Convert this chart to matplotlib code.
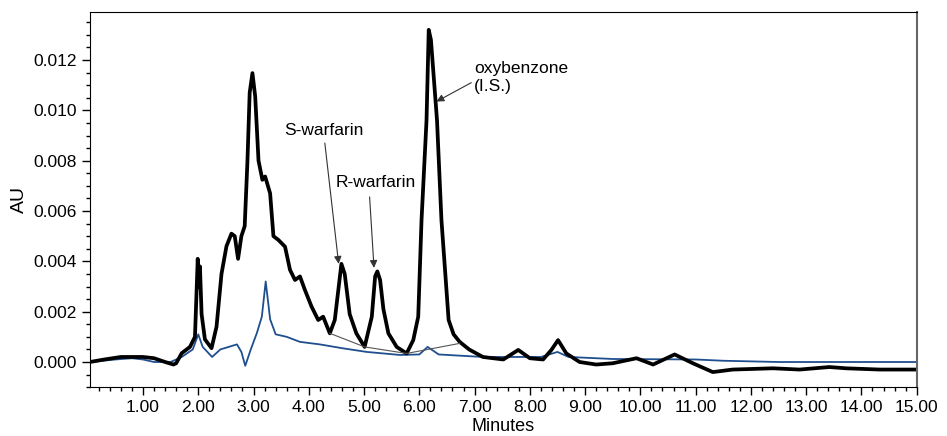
import numpy as np
import matplotlib
matplotlib.use("Agg")
from matplotlib import pyplot as plt
from matplotlib.ticker import MultipleLocator, FormatStrFormatter

###
# Chiral separation of warfarin, plasma sample vs blank
###

# sample trace (black)
t_black = [0.04, 0.3, 0.6, 1.0, 1.2, 1.4, 1.55, 1.6, 1.70, 1.85, 1.94, 1.99, 2.01, 2.03, 2.06,
           2.12, 2.24, 2.33, 2.42, 2.51, 2.60, 2.66, 2.72, 2.78, 2.84, 2.89, 2.93, 2.98,
           3.03, 3.09, 3.16, 3.21, 3.30, 3.36, 3.45, 3.57, 3.66, 3.75, 3.84, 3.93, 4.05,
           4.17, 4.26, 4.38, 4.47, 4.59, 4.65, 4.74, 4.86, 5.01, 5.14, 5.20, 5.24, 5.29,
           5.35, 5.44, 5.59, 5.77, 5.89, 5.98, 6.04, 6.13, 6.17, 6.21, 6.32, 6.40, 6.53,
           6.62, 6.73, 6.90, 7.15, 7.52, 7.79, 8.00, 8.24, 8.39, 8.51, 8.66, 8.90, 9.20,
           9.50, 9.93, 10.23, 10.62, 10.95, 11.31, 11.67, 12.40, 12.88, 13.42, 13.72,
           14.33, 15.0]
au_black = [0.0, 0.0001, 0.0002, 0.0002, 0.00015, 0.0, -0.0001, -0.00005, 0.00035, 0.0006,
            0.0010, 0.0041, 0.0030, 0.0038, 0.0019, 0.0009, 0.00055, 0.0014, 0.0035, 0.0046,
            0.0051, 0.0050, 0.0041, 0.0050, 0.0054, 0.0080, 0.0107, 0.01148, 0.01055, 0.0080,
            0.00724, 0.00737, 0.0067, 0.0050, 0.00485, 0.00458, 0.00366, 0.00326, 0.0034,
            0.00286, 0.0022, 0.00167, 0.0018, 0.00114, 0.00167, 0.0039, 0.0035, 0.0019,
            0.00114, 0.0006, 0.0018, 0.0034, 0.0036, 0.00326, 0.0021, 0.00114, 0.0006,
            0.00034, 0.00087, 0.0018, 0.00565, 0.0096, 0.0132, 0.0128, 0.0096, 0.00565,
            0.00167, 0.0011, 0.0008, 0.0005, 0.0002, 0.0001, 0.00048, 0.00015, 0.0001,
            0.00048, 0.00087, 0.00034, 0.0, -0.0001, -0.00005, 0.00015, -0.0001, 0.0003,
            -0.00005, -0.0004, -0.0003, -0.00025, -0.0003, -0.0002, -0.00025, -0.0003, -0.0003]

# blank trace (blue)
t_blue = [0.04, 0.5, 0.8, 1.0, 1.2, 1.5, 1.7, 1.9, 2.0, 2.08, 2.25, 2.4, 2.55, 2.7, 2.78,
          2.85, 2.95, 3.06, 3.15, 3.22, 3.3, 3.4, 3.6, 3.84, 4.2, 4.6, 5.05, 5.65, 6.0,
          6.15, 6.35, 7.15, 8.2, 8.5, 8.7, 9.5, 11.0, 11.5, 12.5, 15.0]
au_blue = [0.0, 0.0001, 0.00015, 0.0001, 0.0, 0.0, 0.0002, 0.0005, 0.0011, 0.0006, 0.0002,
           0.0005, 0.0006, 0.0007, 0.0004, -0.00015, 0.0005, 0.00115, 0.0018, 0.0032, 0.0017,
           0.0011, 0.001, 0.0008, 0.0007, 0.00055, 0.0004, 0.00028, 0.0003, 0.0006, 0.0003,
           0.0002, 0.0002, 0.0004, 0.0002, 0.00012, 0.0001, 0.00005, 0.0, 0.0]

# integration baselines (drop points)
base_t = [4.38, 5.01, 5.77, 6.73]
base_au = [0.00114, 0.0006, 0.00034, 0.00074]

labels = ["S-warfarin", "R-warfarin", "oxybenzone\n(I.S.)"]
label_xy = [(4.27, 0.0092), (5.21, 0.00712), (6.99, 0.01131)]
label_ha = ['center', 'center', 'left']
arrow_head = [(4.54, 0.0039), (5.18, 0.00374), (6.31, 0.01035)]
arrow_tail = [(4.29, 0.0087), (5.10, 0.00656), (6.94, 0.0111)]

plt.rcParams['font.family'] = ['Liberation Sans', 'DejaVu Sans']
fig = plt.figure(figsize=(9.47, 4.36), dpi=100)
ax = fig.add_axes([0.095, 0.112, 0.873, 0.860])

ax.plot(t_blue, au_blue, color='#1f4f8f', lw=1.3)
ax.plot(t_black, au_black, color='black', lw=2.7)
ax.plot(base_t, base_au, color='#555555', lw=0.8)

for i, lab in enumerate(labels):
    ax.annotate("", xy=arrow_head[i], xytext=arrow_tail[i],
                arrowprops=dict(arrowstyle='-|>', color='#333333', lw=0.8,
                                mutation_scale=11, shrinkA=0, shrinkB=0))
    ax.text(label_xy[i][0], label_xy[i][1], lab, fontsize=12.5, ha=label_ha[i],
            va='center', linespacing=1.2)

ax.set_xlim(0.04, 15.0)
ax.set_ylim(-0.001, 0.0139)
ax.xaxis.set_major_locator(MultipleLocator(1.0))
ax.xaxis.set_minor_locator(MultipleLocator(0.2))
ax.xaxis.set_major_formatter(FormatStrFormatter('%.2f'))
ax.yaxis.set_major_locator(MultipleLocator(0.002))
ax.yaxis.set_minor_locator(MultipleLocator(0.0005))
ax.yaxis.set_major_formatter(FormatStrFormatter('%.3f'))
ax.tick_params(which='major', length=6, width=1, labelsize=12.5, direction='out')
ax.tick_params(which='minor', length=3, width=1, direction='out')
ax.spines['right'].set_color('#666666')
ax.spines['right'].set_linewidth(1.5)

ax.set_xlabel("Minutes", fontsize=13, labelpad=2)
ax.set_ylabel("AU", fontsize=14, labelpad=4)

fig.savefig("out.png", dpi=100)
